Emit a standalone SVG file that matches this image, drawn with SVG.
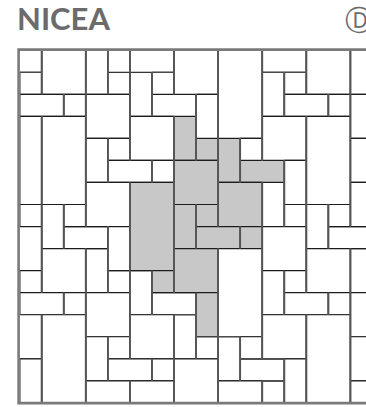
<svg xmlns="http://www.w3.org/2000/svg" width="366" height="407" viewBox="0 0 366 407">
<style>
.title{font-family:Lato,"Open Sans","Liberation Sans",sans-serif;font-weight:700;font-size:31px;fill:#6b6b6b}
.mark{font-family:"DejaVu Sans",sans-serif;font-size:28px;fill:#6b6b6b}
.h rect{fill:#fff;stroke:#1c1c1c;stroke-width:1.2}
.h rect.g{fill:#c8c8c8}
.v rect{fill:none;stroke:#555;stroke-width:1.8}
.s11{width:22px;height:22px}
.s12{width:22px;height:44px}
.s21{width:44px;height:22px}
.s22{width:44px;height:44px}
.s24{width:44px;height:88px}
.s14{width:22px;height:88px}
.h .s11{stroke-dasharray:22 22}
.h .s12{stroke-dasharray:22 44}
.h .s21{stroke-dasharray:44 22}
.h .s22{stroke-dasharray:44 44}
.h .s24{stroke-dasharray:44 88}
.h .s14{stroke-dasharray:22 88}
.v .s11{stroke-dasharray:22 22;stroke-dashoffset:22}
.v .s12{stroke-dasharray:44 22;stroke-dashoffset:44}
.v .s21{stroke-dasharray:22 44;stroke-dashoffset:22}
.v .s22{stroke-dasharray:44 44;stroke-dashoffset:44}
.v .s24{stroke-dasharray:88 44;stroke-dashoffset:88}
.v .s14{stroke-dasharray:88 22;stroke-dashoffset:88}
.frame{fill:none;stroke:#7a7a7a;stroke-width:2.6}
</style>
<defs>
<clipPath id="clip"><rect x="0" y="0" width="360" height="352"/></clipPath>
</defs>
<text class="title" x="17" y="29.5">NICEA</text>
<text class="mark" x="345" y="30">Ⓓ</text>
<g id="paving" transform="translate(19.7,50.2) scale(1.002)" clip-path="url(#clip)">
<g id="tiles-fill" class="h">
<rect class="s12" x="66" y="0"/><rect class="s12" x="330" y="0"/><rect class="s12 g" x="154" y="66"/><rect class="s12" x="242" y="132"/><rect class="s12" x="66" y="198"/><rect class="s12" x="330" y="198"/><rect class="s12" x="154" y="264"/><rect class="s12" x="242" y="330"/>
<rect class="s11" x="88" y="22"/><rect class="s11 g" x="176" y="88"/><rect class="s11" x="0" y="154"/><rect class="s11" x="264" y="154"/><rect class="s11" x="88" y="220"/><rect class="s11" x="176" y="286"/>
<rect class="s12" x="110" y="22"/><rect class="s12 g" x="198" y="88"/><rect class="s12" x="22" y="154"/><rect class="s12" x="286" y="154"/><rect class="s12" x="110" y="220"/><rect class="s12" x="198" y="286"/>
<rect class="s21" x="132" y="44"/><rect class="s21 g" x="220" y="110"/><rect class="s21" x="44" y="176"/><rect class="s21" x="308" y="176"/><rect class="s21" x="132" y="242"/><rect class="s21" x="220" y="308"/>
<rect class="s22" x="-22" y="-22"/><rect class="s22" x="242" y="-22"/><rect class="s22" x="66" y="44"/><rect class="s22" x="330" y="44"/><rect class="s22 g" x="154" y="110"/><rect class="s22" x="-22" y="176"/><rect class="s22" x="242" y="176"/><rect class="s22" x="66" y="242"/><rect class="s22" x="330" y="242"/><rect class="s22" x="154" y="308"/>
<rect class="s22" x="22" y="0"/><rect class="s22" x="286" y="0"/><rect class="s22" x="110" y="66"/><rect class="s22 g" x="198" y="132"/><rect class="s22" x="22" y="198"/><rect class="s22" x="286" y="198"/><rect class="s22" x="110" y="264"/><rect class="s22" x="198" y="330"/>
<rect class="s12" x="242" y="22"/><rect class="s12" x="66" y="88"/><rect class="s12" x="330" y="88"/><rect class="s12 g" x="154" y="154"/><rect class="s12" x="242" y="220"/><rect class="s12" x="66" y="286"/><rect class="s12" x="330" y="286"/>
<rect class="s11" x="0" y="22"/><rect class="s11" x="264" y="22"/><rect class="s11" x="88" y="88"/><rect class="s11 g" x="176" y="154"/><rect class="s11" x="0" y="220"/><rect class="s11" x="264" y="220"/><rect class="s11" x="88" y="286"/>
<rect class="s21" x="0" y="44"/><rect class="s21" x="264" y="44"/><rect class="s21" x="88" y="110"/><rect class="s21 g" x="176" y="176"/><rect class="s21" x="0" y="242"/><rect class="s21" x="264" y="242"/><rect class="s21" x="88" y="308"/>
<rect class="s11" x="44" y="44"/><rect class="s11" x="308" y="44"/><rect class="s11" x="132" y="110"/><rect class="s11 g" x="220" y="176"/><rect class="s11" x="44" y="242"/><rect class="s11" x="308" y="242"/><rect class="s11" x="132" y="308"/>
<rect class="s24" x="110" y="-66"/><rect class="s24" x="198" y="0"/><rect class="s24" x="22" y="66"/><rect class="s24" x="286" y="66"/><rect class="s24 g" x="110" y="132"/><rect class="s24" x="198" y="198"/><rect class="s24" x="22" y="264"/><rect class="s24" x="286" y="264"/><rect class="s24" x="110" y="330"/>
<rect class="s22" x="154" y="0"/><rect class="s22" x="242" y="66"/><rect class="s22" x="66" y="132"/><rect class="s22" x="330" y="132"/><rect class="s22 g" x="154" y="198"/><rect class="s22" x="-22" y="264"/><rect class="s22" x="242" y="264"/><rect class="s22" x="66" y="330"/><rect class="s22" x="330" y="330"/>
<rect class="s11" x="132" y="22"/><rect class="s11" x="220" y="88"/><rect class="s11" x="44" y="154"/><rect class="s11" x="308" y="154"/><rect class="s11 g" x="132" y="220"/><rect class="s11" x="220" y="286"/>
<rect class="s12" x="88" y="-22"/><rect class="s12" x="176" y="44"/><rect class="s12" x="264" y="110"/><rect class="s12" x="88" y="176"/><rect class="s12 g" x="176" y="242"/><rect class="s12" x="0" y="308"/><rect class="s12" x="264" y="308"/>
<rect class="s14" x="0" y="66"/>
</g>
<g id="tiles-joints" class="v">
<rect class="s12" x="66" y="0"/><rect class="s12" x="330" y="0"/><rect class="s12" x="154" y="66"/><rect class="s12" x="242" y="132"/><rect class="s12" x="66" y="198"/><rect class="s12" x="330" y="198"/><rect class="s12" x="154" y="264"/><rect class="s12" x="242" y="330"/>
<rect class="s11" x="88" y="22"/><rect class="s11" x="176" y="88"/><rect class="s11" x="0" y="154"/><rect class="s11" x="264" y="154"/><rect class="s11" x="88" y="220"/><rect class="s11" x="176" y="286"/>
<rect class="s12" x="110" y="22"/><rect class="s12" x="198" y="88"/><rect class="s12" x="22" y="154"/><rect class="s12" x="286" y="154"/><rect class="s12" x="110" y="220"/><rect class="s12" x="198" y="286"/>
<rect class="s21" x="132" y="44"/><rect class="s21" x="220" y="110"/><rect class="s21" x="44" y="176"/><rect class="s21" x="308" y="176"/><rect class="s21" x="132" y="242"/><rect class="s21" x="220" y="308"/>
<rect class="s22" x="-22" y="-22"/><rect class="s22" x="242" y="-22"/><rect class="s22" x="66" y="44"/><rect class="s22" x="330" y="44"/><rect class="s22" x="154" y="110"/><rect class="s22" x="-22" y="176"/><rect class="s22" x="242" y="176"/><rect class="s22" x="66" y="242"/><rect class="s22" x="330" y="242"/><rect class="s22" x="154" y="308"/>
<rect class="s22" x="22" y="0"/><rect class="s22" x="286" y="0"/><rect class="s22" x="110" y="66"/><rect class="s22" x="198" y="132"/><rect class="s22" x="22" y="198"/><rect class="s22" x="286" y="198"/><rect class="s22" x="110" y="264"/><rect class="s22" x="198" y="330"/>
<rect class="s12" x="242" y="22"/><rect class="s12" x="66" y="88"/><rect class="s12" x="330" y="88"/><rect class="s12" x="154" y="154"/><rect class="s12" x="242" y="220"/><rect class="s12" x="66" y="286"/><rect class="s12" x="330" y="286"/>
<rect class="s11" x="0" y="22"/><rect class="s11" x="264" y="22"/><rect class="s11" x="88" y="88"/><rect class="s11" x="176" y="154"/><rect class="s11" x="0" y="220"/><rect class="s11" x="264" y="220"/><rect class="s11" x="88" y="286"/>
<rect class="s21" x="0" y="44"/><rect class="s21" x="264" y="44"/><rect class="s21" x="88" y="110"/><rect class="s21" x="176" y="176"/><rect class="s21" x="0" y="242"/><rect class="s21" x="264" y="242"/><rect class="s21" x="88" y="308"/>
<rect class="s11" x="44" y="44"/><rect class="s11" x="308" y="44"/><rect class="s11" x="132" y="110"/><rect class="s11" x="220" y="176"/><rect class="s11" x="44" y="242"/><rect class="s11" x="308" y="242"/><rect class="s11" x="132" y="308"/>
<rect class="s24" x="110" y="-66"/><rect class="s24" x="198" y="0"/><rect class="s24" x="22" y="66"/><rect class="s24" x="286" y="66"/><rect class="s24" x="110" y="132"/><rect class="s24" x="198" y="198"/><rect class="s24" x="22" y="264"/><rect class="s24" x="286" y="264"/><rect class="s24" x="110" y="330"/>
<rect class="s22" x="154" y="0"/><rect class="s22" x="242" y="66"/><rect class="s22" x="66" y="132"/><rect class="s22" x="330" y="132"/><rect class="s22" x="154" y="198"/><rect class="s22" x="-22" y="264"/><rect class="s22" x="242" y="264"/><rect class="s22" x="66" y="330"/><rect class="s22" x="330" y="330"/>
<rect class="s11" x="132" y="22"/><rect class="s11" x="220" y="88"/><rect class="s11" x="44" y="154"/><rect class="s11" x="308" y="154"/><rect class="s11" x="132" y="220"/><rect class="s11" x="220" y="286"/>
<rect class="s12" x="88" y="-22"/><rect class="s12" x="176" y="44"/><rect class="s12" x="264" y="110"/><rect class="s12" x="88" y="176"/><rect class="s12" x="176" y="242"/><rect class="s12" x="0" y="308"/><rect class="s12" x="264" y="308"/>
<rect class="s14" x="0" y="66"/>
</g>
</g>
<path class="frame" d="M366,49.6 H18.6 V403.1 H366"/>
</svg>
